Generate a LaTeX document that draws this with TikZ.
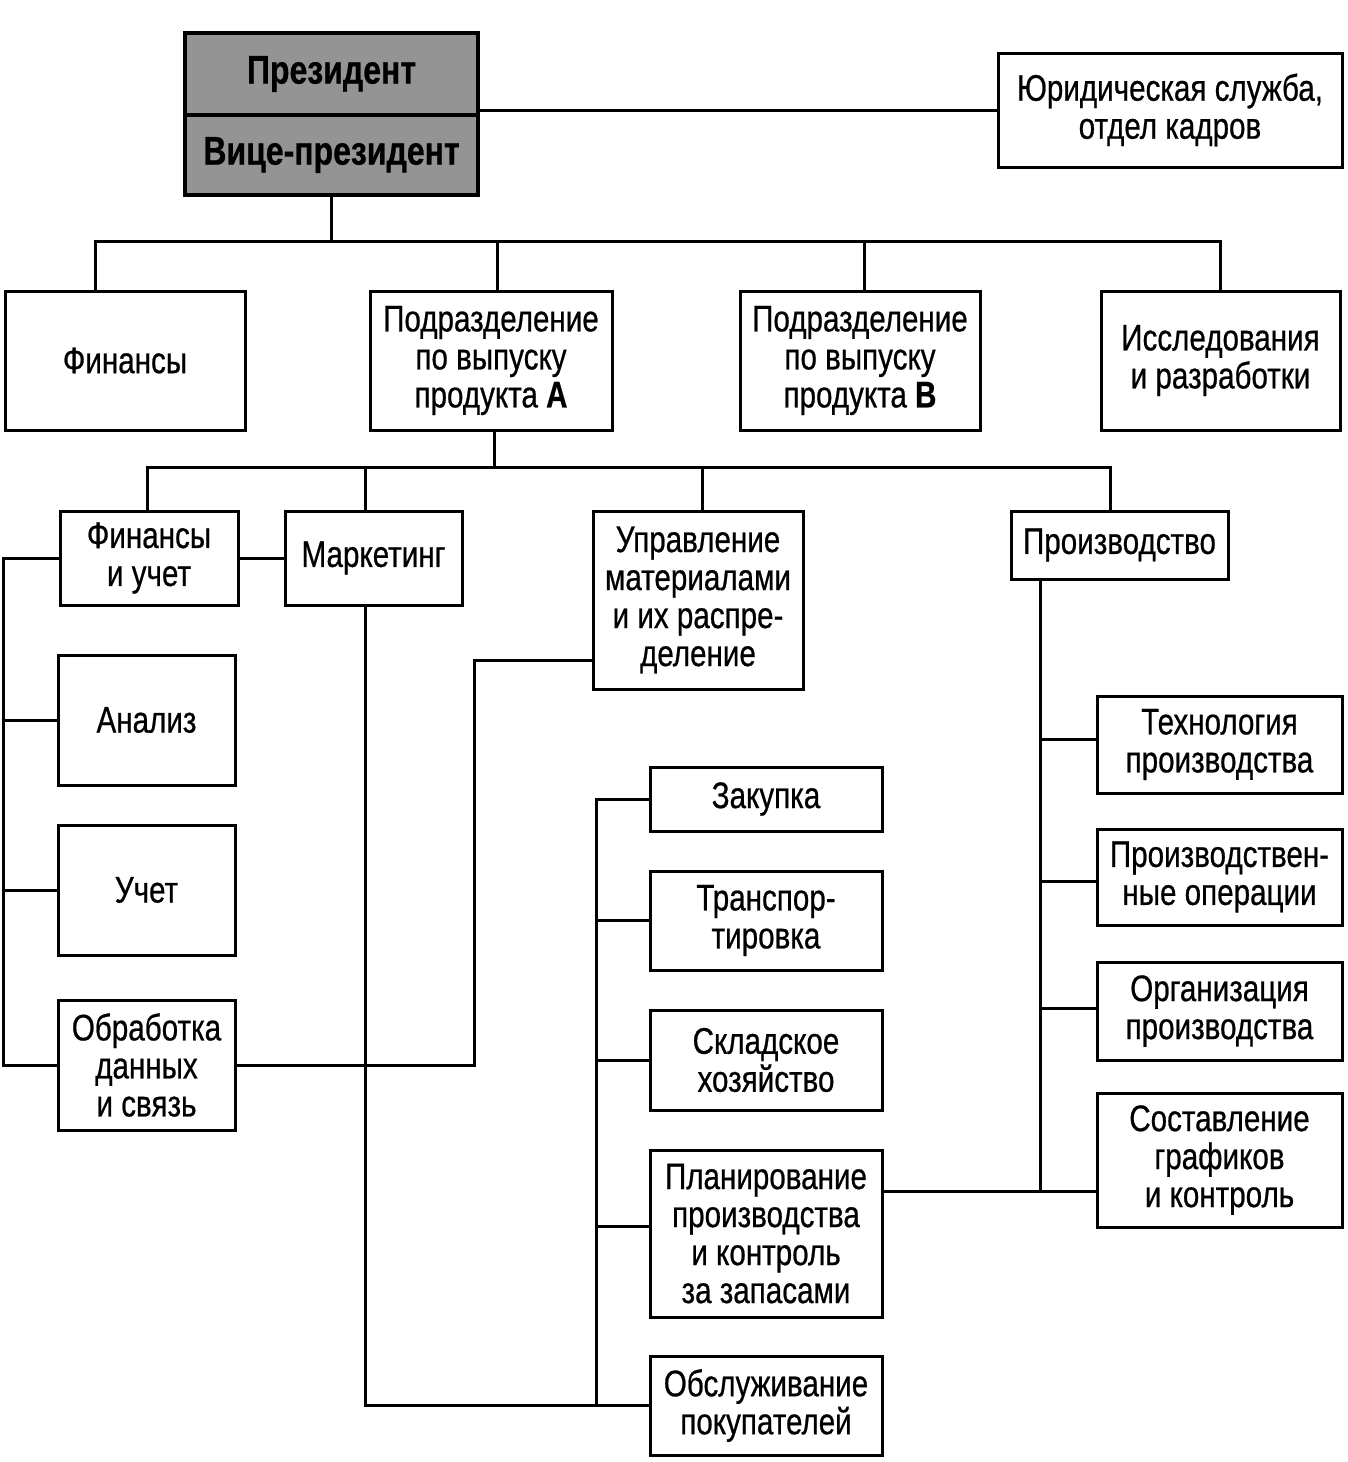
\documentclass[tikz,border=0pt]{standalone}
\usepackage{fontspec}
\setmainfont{Liberation Sans}[FakeStretch=0.80,FakeBold=0.6]
\begin{document}
\begin{tikzpicture}[x=1pt,y=-1pt,
  box/.style={draw, line width=3pt, rectangle, inner sep=0pt, align=center,
    font=\fontsize{37}{38}\selectfont},
  headbox/.style={box, fill=black!42, line width=4.5pt, font=\fontsize{40}{40}\selectfont\bfseries},
  conn/.style={line width=3pt}]
\useasboundingbox (0,0) rectangle (1348,1462);

% top
\node[headbox, minimum width=293pt, minimum height=82pt] (pres) at (331.5,74) {Президент};
\node[headbox, minimum width=293pt, minimum height=80pt] (vp) at (331.5,155) {Вице-президент};
\node[box, minimum width=344pt, minimum height=114pt] (legal) at (1170,110) {Юридическая служба,\\отдел кадров};

% level 2
\node[box, minimum width=240pt, minimum height=139pt] (fin) at (125,360.5) {Финансы};
\node[box, minimum width=242pt, minimum height=139pt] (pa) at (491,360.5) {Подразделение\\по выпуску\\продукта \textbf{А}};
\node[box, minimum width=240pt, minimum height=139pt] (pb) at (860,360.5) {Подразделение\\по выпуску\\продукта \textbf{В}};
\node[box, minimum width=239pt, minimum height=139pt] (rd) at (1220.5,360.5) {Исследования\\и разработки};

% level 3
\node[box, minimum width=178pt, minimum height=94pt] (fu) at (149,558) {Финансы\\и учет};
\node[box, minimum width=177pt, minimum height=94pt] (mk) at (373.5,558) {Маркетинг};
\node[box, minimum width=210pt, minimum height=178pt] (um) at (698,600) {Управление\\материалами\\и их распре-\\деление};
\node[box, minimum width=217pt, minimum height=68pt] (pr) at (1119.5,545) {Производство};

% finance column
\node[box, minimum width=177pt, minimum height=130pt] (an) at (146.5,720) {Анализ};
\node[box, minimum width=177pt, minimum height=130pt] (uc) at (146.5,890) {Учет};
\node[box, minimum width=177pt, minimum height=130pt] (ob) at (146.5,1065) {Обработка\\данных\\и связь};

% materials column
\node[box, minimum width=232pt, minimum height=64pt] (zk) at (766,799) {Закупка};
\node[box, minimum width=232pt, minimum height=99pt] (tr) at (766,920.5) {Транспор-\\тировка};
\node[box, minimum width=232pt, minimum height=100pt] (sk) at (766,1060) {Складское\\хозяйство};
\node[box, minimum width=232pt, minimum height=167pt] (pl) at (766,1233.5) {Планирование\\производства\\и контроль\\за запасами};
\node[box, minimum width=232pt, minimum height=99pt] (os) at (766,1405.5) {Обслуживание\\покупателей};

% production column
\node[box, minimum width=245pt, minimum height=97pt] (te) at (1219.5,744.5) {Технология\\производства};
\node[box, minimum width=245pt, minimum height=96pt] (po) at (1219.5,877) {Производствен-\\ные операции};
\node[box, minimum width=245pt, minimum height=98pt] (org) at (1219.5,1011) {Организация\\производства};
\node[box, minimum width=245pt, minimum height=134pt] (sg) at (1219.5,1160) {Составление\\графиков\\и контроль};

% coordinates for buses
\coordinate (bus1) at (331.5,241);
\coordinate (bus2) at (494,467);
\coordinate (lb) at (3,557);
\coordinate (mx) at (474,1065);
\coordinate (sb) at (596,797);

% connectors
\draw[conn] (legal.west) -- (legal.west -| pres.east);
\draw[conn] (vp.south) -- (bus1);
\draw[conn] ([xshift=-30pt]fin.north) |- (bus1) -| (rd.north);
\draw[conn] ([xshift=6pt]pa.north) -- ([xshift=6pt]pa.north |- bus1);
\draw[conn] ([xshift=4pt]pb.north) -- ([xshift=4pt]pb.north |- bus1);

\draw[conn] (bus2 |- pa.south) -- (bus2);
\draw[conn] ([xshift=-2pt]fu.north) |- (bus2) -| ([xshift=-9.5pt]pr.north);
\draw[conn] ([xshift=-8.5pt]mk.north) -- ([xshift=-8.5pt]mk.north |- bus2);
\draw[conn] ([xshift=4pt]um.north) -- ([xshift=4pt]um.north |- bus2);

\draw[conn] (fu.east) -- (mk.west);
\draw[conn] (fu.west) -- (fu.west -| lb) -- (ob.west -| lb) -- (ob.west);
\draw[conn] (an.west) -- (an.west -| lb);
\draw[conn] (uc.west) -- (uc.west -| lb);

\draw[conn] (ob.east) -- (ob.east -| mx) |- ([yshift=-60pt]um.west);
\draw[conn] ([xshift=-8.5pt]mk.south) |- (os.west);

\draw[conn] (zk.west) -- (zk.west -| sb) -- (os.west -| sb);
\draw[conn] (tr.west) -- (tr.west -| sb);
\draw[conn] (sk.west) -- (sk.west -| sb);
\draw[conn] ([yshift=7.5pt]pl.west) -- ([yshift=7.5pt]pl.west -| sb);

\draw[conn] ([xshift=-79.5pt]pr.south) |- ([yshift=-31pt]sg.west);
\draw[conn] ([yshift=5.5pt]te.west) -- +(-57,0);
\draw[conn] ([yshift=-4pt]po.west) -- +(-57,0);
\draw[conn] ([yshift=3pt]org.west) -- +(-57,0);
\draw[conn] ([yshift=42.5pt]pl.east) -- ([yshift=-31pt]sg.west);
\end{tikzpicture}
\end{document}
